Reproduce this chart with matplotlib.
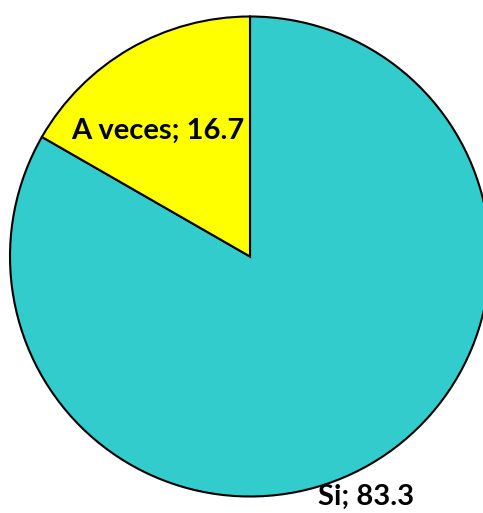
import numpy as np
import matplotlib
matplotlib.use("Agg")
import matplotlib.pyplot as plt

labels = ["Si", "A veces"]
values = [83.3, 16.7]
colors = ["#33CCCC", "#FFFF00"]

# label placement: fraction of radius, angular shift from wedge middle (deg)
label_dist = [1.112, 0.65]
label_shift = [-4.3, 6.4]

W, H = 483, 513
fig = plt.figure(figsize=(W / 100, H / 100), dpi=100)
ax = fig.add_axes([0, 0, 1, 1])

cx, cy, r = 250, 256.5, 240
wedges, _ = ax.pie(values, colors=colors, startangle=90, counterclock=False,
                   center=(cx, cy), radius=r, frame=True,
                   wedgeprops=dict(edgecolor="black", linewidth=1.5))
ax.set_xlim(0, W)
ax.set_ylim(0, H)
ax.set_aspect("equal")
ax.axis("off")

for w, lab, v, d, s in zip(wedges, labels, values, label_dist, label_shift):
    ang = np.deg2rad((w.theta1 + w.theta2) / 2 + s)
    x = cx + d * r * np.cos(ang)
    y = cy + d * r * np.sin(ang)
    ax.text(x, y, f"{lab}; {v}", ha="center", va="center",
            fontsize=21, fontweight="bold", family="Lato")

fig.savefig("out.png", dpi=100)
